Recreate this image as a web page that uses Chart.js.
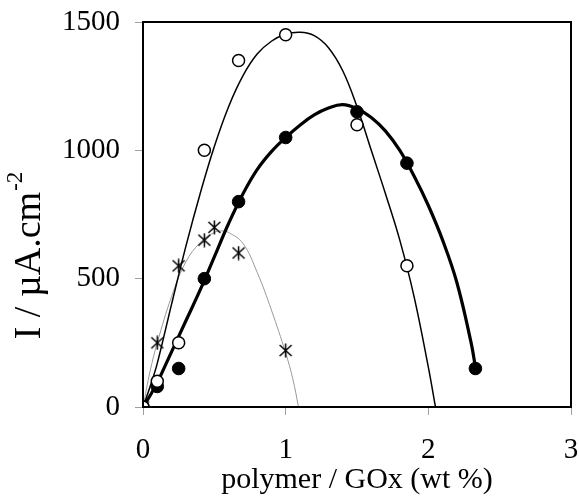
<!DOCTYPE html>
<html>
<head>
<meta charset="utf-8">
<script src="https://cdn.jsdelivr.net/npm/chart.js@4.4.1/dist/chart.umd.min.js"></script>
<style>
  html, body { margin: 0; padding: 0; background: #fff; }
  #wrap { width: 579px; height: 498px; position: relative; }
</style>
</head>
<body>
<div id="wrap"><canvas id="c"></canvas></div>
<script>
// ---- data ----
const openX = [0, 0.1, 0.25, 0.43, 0.67, 1.0, 1.5, 1.85];
const openY = [0, 100, 250, 1000, 1350, 1450, 1100, 550];

const filledX = [0, 0.1, 0.25, 0.43, 0.67, 1.0, 1.5, 1.85, 2.33];
const filledY = [0, 80, 150, 500, 800, 1050, 1150, 950, 150];

const starX = [0, 0.1, 0.25, 0.43, 0.5, 0.67, 1.0];
const starY = [0, 250, 550, 650, 700, 600, 220];

// trend curves
const openCurveX = [0, 0.05, 0.1, 0.2, 0.3, 0.4, 0.5, 0.6, 0.7, 0.8, 0.9, 1.0, 1.1, 1.2, 1.3, 1.4, 1.5, 1.6, 1.7, 1.8, 1.9, 2.0, 2.05];
const openCurveY = [0, 80, 170, 400, 625, 830, 1015, 1170, 1290, 1375, 1425, 1452, 1460, 1447, 1400, 1310, 1170, 1000, 830, 650, 430, 155, 0];

const filledCurveX = [0, 0.05, 0.1, 0.2, 0.3, 0.4, 0.5, 0.6, 0.7, 0.8, 0.9, 1.0, 1.1, 1.2, 1.3, 1.4, 1.5, 1.6, 1.7, 1.8, 1.9, 2.0, 2.1, 2.2, 2.3, 2.33];
const filledCurveY = [0, 45, 95, 215, 335, 455, 585, 715, 830, 925, 995, 1050, 1098, 1138, 1165, 1178, 1162, 1128, 1075, 1000, 900, 785, 650, 485, 250, 155];

const grayCurveX = [0, 0.05, 0.1, 0.2, 0.3, 0.4, 0.5, 0.55, 0.6, 0.7, 0.8, 0.9, 1.0, 1.05, 1.09];
const grayCurveY = [0, 140, 250, 430, 565, 640, 680, 686, 680, 638, 525, 378, 210, 110, 0];

const xTicks = [0, 1, 2, 3];
const yTicks = [0, 500, 1000, 1500];
const xTitle = 'polymer / GOx (wt %)';
const yTitleMain = 'I / µA.cm';
const yTitleSup = '-2';

// ---- helpers ----
const pts = (xs, ys) => xs.map((x, i) => ({ x: x, y: ys[i] }));
const FONT = "'Liberation Serif', 'Times New Roman', serif";

function makeStar() {
  const s = 15, c = document.createElement('canvas');
  c.width = s; c.height = s;
  const g = c.getContext('2d');
  g.strokeStyle = '#000';
  g.lineWidth = 1.5;
  g.beginPath();
  g.moveTo(7.5, 0.5); g.lineTo(7.5, 14.5);
  g.moveTo(1.5, 2); g.lineTo(13.5, 13);
  g.moveTo(13.5, 2); g.lineTo(1.5, 13);
  g.stroke();
  return c;
}
const starImg = makeStar();

const framePlugin = {
  id: 'frame',
  afterDraw(chart) {
    const { ctx, chartArea: a } = chart;
    ctx.save();
    ctx.strokeStyle = '#000';
    ctx.lineWidth = 2;
    ctx.strokeRect(a.left, a.top, a.right - a.left, a.bottom - a.top);
    // y title with superscript
    ctx.translate(30, 256);
    ctx.rotate(-Math.PI / 2);
    ctx.fillStyle = '#000';
    ctx.textBaseline = 'middle';
    ctx.textAlign = 'left';
    const mainFont = '38px ' + FONT, supFont = '23px ' + FONT;
    ctx.font = mainFont;
    const wm = ctx.measureText(yTitleMain).width;
    ctx.font = supFont;
    const ws = ctx.measureText(yTitleSup).width;
    const start = -(wm + ws) / 2;
    ctx.font = mainFont;
    ctx.fillText(yTitleMain, start, 0);
    ctx.font = supFont;
    ctx.fillText(yTitleSup, start + wm + 1, -14);
    ctx.restore();
  }
};

new Chart(document.getElementById('c'), {
  type: 'scatter',
  data: {
    datasets: [
      { label: 'open', data: pts(openX, openY), showLine: false, order: 0,
        pointStyle: 'circle', pointRadius: 6, pointBorderWidth: 1.5,
        pointBackgroundColor: '#fff', pointBorderColor: '#000' },
      { label: 'filled', data: pts(filledX, filledY), showLine: false, order: 0,
        pointStyle: 'circle', pointRadius: 6.3, pointBorderWidth: 1,
        pointBackgroundColor: '#000', pointBorderColor: '#000' },
      { label: 'star', data: pts(starX, starY), showLine: false, order: 0,
        pointStyle: starImg, pointRadius: 7 },
      { label: 'open fit', data: pts(openCurveX, openCurveY), showLine: true, order: 1,
        borderColor: '#000', borderWidth: 1.5, pointRadius: 0, tension: 0.4 },
      { label: 'filled fit', data: pts(filledCurveX, filledCurveY), showLine: true, order: 1,
        borderColor: '#000', borderWidth: 3.2, pointRadius: 0, tension: 0.4 },
      { label: 'star fit', data: pts(grayCurveX, grayCurveY), showLine: true, order: 2,
        borderColor: '#9a9a9a', borderWidth: 1, pointRadius: 0, tension: 0.4 }
    ]
  },
  options: {
    responsive: true,
    maintainAspectRatio: false,
    animation: false,
    events: [],
    layout: { padding: { left: 0, top: 22, right: 7, bottom: 0 } },
    plugins: { legend: { display: false }, tooltip: { enabled: false } },
    scales: {
      x: {
        type: 'linear', min: 0, max: 3,
        afterBuildTicks: (s) => { s.ticks = xTicks.map(v => ({ value: v })); },
        afterFit: (s) => { s.height = 91; s.paddingLeft = 0; s.paddingRight = 0; },
        ticks: { color: '#000', padding: 18, font: { family: FONT, size: 29 },
                 callback: (v) => String(v) },
        grid: { drawOnChartArea: false, color: '#a0a0a0', tickLength: 8, tickWidth: 1 },
        border: { color: '#000', width: 2 },
        title: { display: true, text: xTitle, color: '#000',
                 font: { family: FONT, size: 30 }, padding: { top: 0, bottom: 0 } }
      },
      y: {
        type: 'linear', min: 0, max: 1500,
        afterBuildTicks: (s) => { s.ticks = yTicks.map(v => ({ value: v })); },
        afterFit: (s) => { s.width = 143; s.paddingTop = 0; s.paddingBottom = 0; },
        ticks: { color: '#000', padding: 15, font: { family: FONT, size: 29 },
                 callback: (v) => String(v) },
        grid: { drawOnChartArea: false, color: '#a0a0a0', tickLength: 8, tickWidth: 1 },
        border: { color: '#000', width: 2 }
      }
    }
  },
  plugins: [framePlugin]
});
</script>
</body>
</html>
